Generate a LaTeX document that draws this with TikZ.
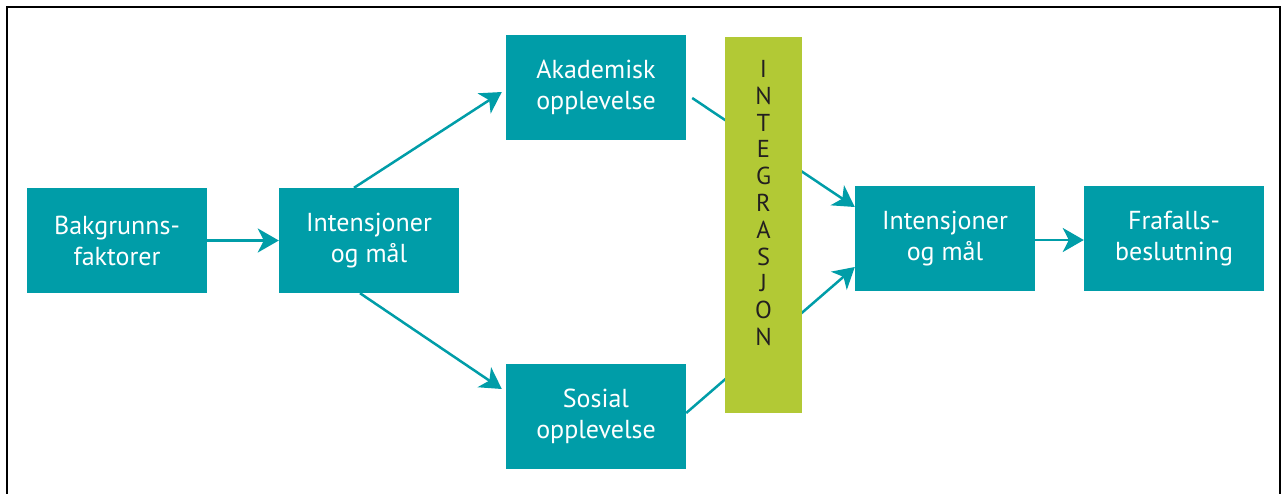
\documentclass[tikz,border=0pt]{standalone}
\usepackage{fontspec}
\setmainfont{PT Sans}
\usetikzlibrary{arrows.meta,calc}
\definecolor{teal1}{RGB}{0,157,168}
\definecolor{lime1}{RGB}{178,201,53}
\definecolor{ink}{RGB}{35,31,32}
\tikzset{
  box/.style={fill=teal1,draw=none,minimum width=180pt,minimum height=105pt,inner sep=0pt,
    text=white,align=center,font=\fontsize{26}{31}\selectfont},
  conn/.style={draw=teal1,line width=2.5pt},
  arr/.style={conn,-{Stealth[length=21pt,width=24pt,inset=6pt]}},
}
\begin{document}
\begin{tikzpicture}[x=1pt,y=-1pt]
\useasboundingbox (0,0) rectangle (1286,493);
\draw[line width=2pt] (7,495) -- (7,7) -- (1280,7) -- (1280,495);
% nodes
\node[box] (bak) at (117,240.5) {Bakgrunns-\\faktorer};
\node[box] (int1) at (369,240.5) {Intensjoner\\og mål};
\node[box] (akad) at (596,87) {Akademisk\\opplevelse};
\node[box] (sos) at (596,416) {Sosial\\opplevelse};
\node[box] (int2) at (945,238.5) {Intensjoner\\og mål};
\node[box] (fra) at (1174,238.5) {Frafalls-\\beslutning};
% connectors behind the integration bar
\draw[arr] ([xshift=6pt,yshift=-11pt]akad.east) -- ([yshift=31.5pt]int2.west);
\draw[arr] ([yshift=3pt]sos.east) -- ([yshift=-28.5pt]int2.west);
% integration bar
\node[fill=lime1,minimum width=77pt,minimum height=376pt,inner sep=0pt] (integ) at (763.5,225) {};
\node[text=ink,inner sep=0pt,font=\fontsize{24.5}{26.8}\selectfont,align=center] (integtxt) at (763.5,203)
  {I\\N\\T\\E\\G\\R\\A\\S\\J\\O\\N};
% other connectors
\draw[arr] (bak.east) -- (int1.west);
\draw[arr] ([xshift=-15pt]int1.north) -- ([xshift=-4pt,yshift=-5pt]akad.west);
\draw[arr] ([xshift=-9pt]int1.south) -- ([xshift=-4pt,yshift=27pt]sos.west);
\draw[arr] ([yshift=-1.5pt]int2.east) -- ([yshift=-1.5pt]fra.west);
\end{tikzpicture}
\end{document}
